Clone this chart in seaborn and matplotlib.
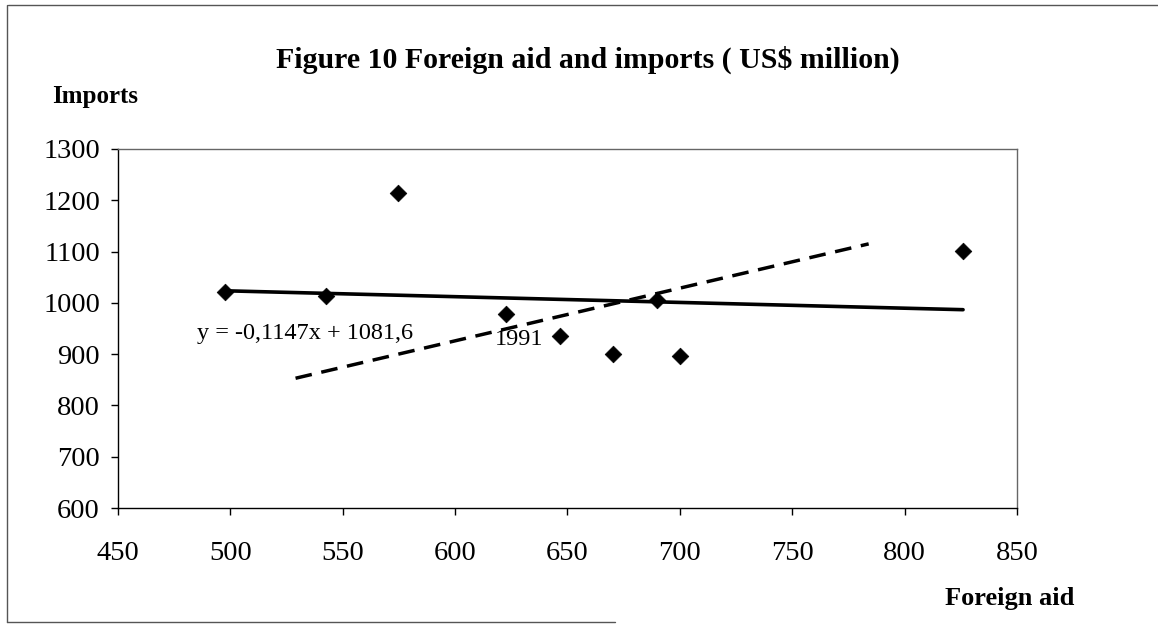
import matplotlib
matplotlib.use("Agg")
import matplotlib.pyplot as plt
from matplotlib.lines import Line2D
import seaborn as sns
import pandas as pd

# ---- data ----
foreign_aid = [497.6, 542.4, 574.5, 622.7, 646.5, 670.2, 689.6, 700.0, 826.0]
imports = [1021, 1013, 1214, 979, 936, 901, 1005, 897, 1101]
dashed_x = [529, 784]
dashed_y = [853, 1115]
x_ticks = [450, 500, 550, 600, 650, 700, 750, 800, 850]
y_ticks = [600, 700, 800, 900, 1000, 1100, 1200, 1300]
title = "Figure 10 Foreign aid and imports ( US$ million)"
equation = "y = -0,1147x + 1081,6"
year_label = "1991"
year_pos = (617.5, 928)
eq_pos = (485, 929)

df = pd.DataFrame({"aid": foreign_aid, "imports": imports})
df_dash = pd.DataFrame({"aid": dashed_x, "imports": dashed_y})

sns.set_theme(style="white")
plt.rcParams["font.family"] = ["Liberation Serif", "DejaVu Serif"]
plt.rcParams["text.color"] = "black"
plt.rcParams["axes.labelcolor"] = "black"

W, H = 1158, 626
fig = plt.figure(figsize=(W / 100, H / 100), dpi=100)
ax = fig.add_axes([118 / W, 1 - 508 / H, (1017 - 118) / W, (508 - 149) / H])

sns.regplot(data=df, x="aid", y="imports", scatter=False, ci=None,
            color="black", line_kws={"lw": 2.6}, truncate=True, ax=ax)
sns.lineplot(data=df_dash, x="aid", y="imports", color="black", lw=2.5,
             dashes=False, ax=ax, linestyle=(0, (4.8, 2.8)))
sns.scatterplot(data=df, x="aid", y="imports", marker="D", s=72,
                color="black", edgecolor="black", linewidth=0.5, ax=ax, zorder=5)

ax.set_xlim(450, 850)
ax.set_ylim(600, 1300)
ax.set_xticks(x_ticks)
ax.set_yticks(y_ticks)
ax.set_xlabel("")
ax.set_ylabel("")
ax.tick_params(axis="both", direction="out", length=5, width=1, colors="black",
               labelsize=20.5, bottom=True, left=True)
ax.tick_params(axis="x", pad=19)
ax.tick_params(axis="y", pad=8)
for s in ["left", "bottom"]:
    ax.spines[s].set_color("black")
    ax.spines[s].set_linewidth(1.0)
for s in ["top", "right"]:
    ax.spines[s].set_color("#666666")
    ax.spines[s].set_linewidth(1.0)
ax.grid(False)

ax.text(eq_pos[0], eq_pos[1], equation, fontsize=17.5, ha="left", va="baseline",
        color="black")
ax.text(year_pos[0], year_pos[1], year_label, fontsize=17.5, ha="left", va="center",
        color="black")

fig.text(588 / W, 1 - 60 / H, title, fontsize=21.5, fontweight="bold",
         ha="center", va="center", color="black")
fig.text(52 / W, 1 - 97 / H, "Imports", fontsize=18, fontweight="bold",
         ha="left", va="center", color="black")
fig.text(945 / W, 1 - 598 / H, "Foreign aid", fontsize=19, fontweight="bold",
         ha="left", va="center", color="black")

# outer chart border (top, left, bottom)
for xs, ys in [([8, W], [5, 5]), ([7, 7], [5, 622]), ([7, 615], [622, 622])]:
    fig.add_artist(Line2D([x / W for x in xs], [1 - y / H for y in ys],
                          color="#555555", lw=1.0, transform=fig.transFigure))

fig.savefig("out.png", dpi=100)
